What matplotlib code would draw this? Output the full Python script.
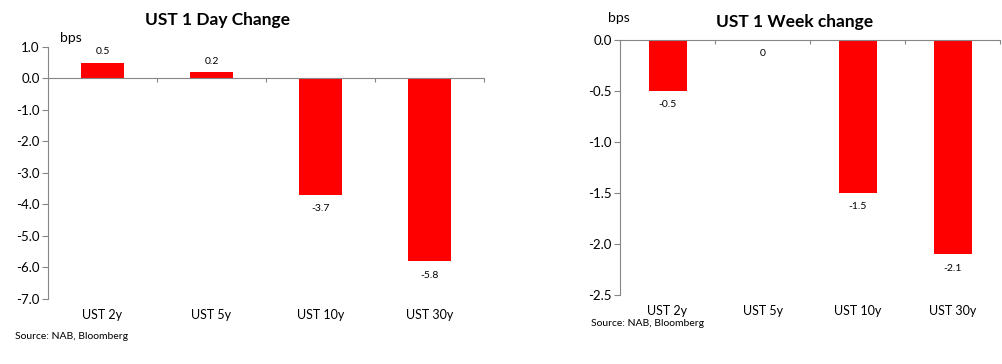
import matplotlib
matplotlib.use("Agg")
import matplotlib.pyplot as plt
import matplotlib.transforms as mtransforms

# datos de los dos graficos
categorias = ["UST 2y", "UST 5y", "UST 10y", "UST 30y"]
cambio_dia = [0.5, 0.2, -3.7, -5.8]
cambio_semana = [-0.5, 0.0, -1.5, -2.1]
etiquetas_dia = ["0.5", "0.2", "-3.7", "-5.8"]
etiquetas_semana = ["-0.5", "0", "-1.5", "-2.1"]

plt.rcParams['font.family'] = ['Lato', 'DejaVu Sans']
gris = "#868686"
rojo = "#ff0000"

fig = plt.figure(figsize=(10.03, 3.64), dpi=100)
ax1 = fig.add_axes([0.0479, 0.1786, 0.4347, 0.6923])
ax2 = fig.add_axes([0.6182, 0.1896, 0.3789, 0.7005])


def dibujar(ax, valores, etiquetas, ymin, ymax, paso, fmt):
    x = list(range(len(categorias)))
    ax.bar(x, valores, width=0.4, color=rojo, zorder=2)
    ax.set_xlim(-0.5, len(categorias) - 0.5)
    ax.set_ylim(ymin, ymax)
    ticks = []
    t = ymax
    while t >= ymin - 1e-9:
        ticks.append(round(t, 2))
        t -= paso
    ax.set_yticks(ticks)
    ax.set_yticklabels([fmt.format(v) for v in ticks], fontsize=9.5)
    for s in ["top", "right"]:
        ax.spines[s].set_visible(False)
    ax.spines["left"].set_color(gris)
    ax.spines["bottom"].set_color(gris)
    ax.spines["bottom"].set_position(("data", 0))
    ax.set_xticks([i + 0.5 for i in x])
    ax.set_xticklabels([])
    ax.tick_params(axis="x", direction="out", length=3, color=gris)
    ax.tick_params(axis="y", direction="out", length=4, color=gris, pad=2)
    trans = mtransforms.blended_transform_factory(ax.transData, ax.transAxes)
    for i, c in enumerate(categorias):
        ax.text(i, -0.063, c, transform=trans, ha="center", va="center", fontsize=9)
    for i, (v, e) in enumerate(zip(valores, etiquetas)):
        off = 8 if v > 0 else -10
        ax.annotate(e, (i, v), xytext=(0, off), textcoords="offset points",
                    ha="center", va="center", fontsize=7.5)


dibujar(ax1, cambio_dia, etiquetas_dia, -7.0, 1.0, 1.0, "{:.1f}")
dibujar(ax2, cambio_semana, etiquetas_semana, -2.5, 0.0, 0.5, "{:.1f}")

fig.text(0.2173, 0.945, "UST 1 Day Change", ha="center", va="center", fontsize=12.5, fontweight="bold")
fig.text(0.7926, 0.9396, "UST 1 Week change", ha="center", va="center", fontsize=12.5, fontweight="bold")
fig.text(0.0598, 0.8956, "bps", ha="left", va="center", fontsize=10)
fig.text(0.606, 0.9505, "bps", ha="left", va="center", fontsize=10)
fig.text(0.015, 0.0742, "Source: NAB, Bloomberg", ha="left", va="center", fontsize=7.5)
fig.text(0.589, 0.11, "Source: NAB, Bloomberg", ha="left", va="center", fontsize=7.5)

fig.savefig("out.png", dpi=100)
